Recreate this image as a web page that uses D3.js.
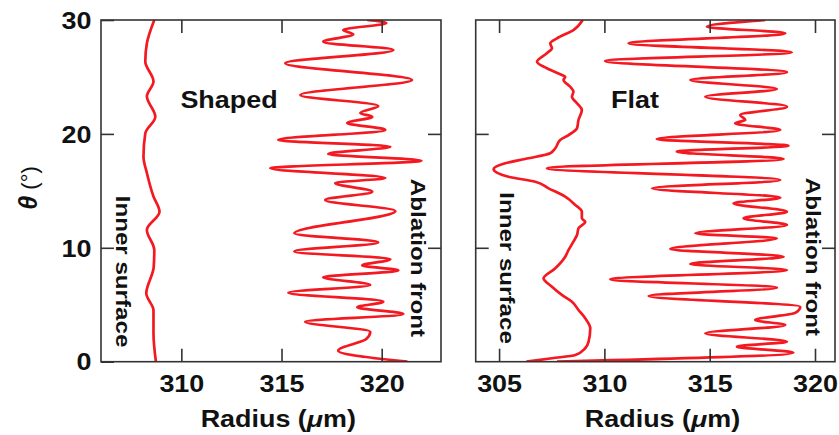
<!DOCTYPE html>
<html>
<head>
<meta charset="utf-8">
<script src="https://cdn.jsdelivr.net/npm/d3@7"></script>
<style>
	body { margin: 0; background: #fff; }
	svg { display: block; font-family: "Liberation Sans", Arial, sans-serif; font-weight: bold; }
</style>
</head>
<body>
<svg id="chart" width="839" height="435"></svg>
<script>
// tick values
var thetaTicks = [0, 10, 20, 30];
var shapedRadiusTicks = [310, 315, 320];
var flatRadiusTicks = [305, 310, 315, 320];

// Shaped panel, inner surface (theta in deg, radius in um)
var shapedInnerTheta = [30, 27.95, 26.35, 24.6, 23.3, 21.5, 20.05, 18.0, 16.57, 14.5, 13.17, 11.57, 9.8, 8.3, 6.0, 4.5, 2.48, 0];
var shapedInnerRadius = [308.65, 308.28, 308.2, 308.61, 308.28, 308.7, 308.2, 308.11, 308.28, 308.61, 308.91, 308.28, 308.65, 308.62, 308.25, 308.61, 308.61, 308.73];

// Shaped panel, ablation front
var shapedFrontTheta = [30.0, 29.74, 29.12, 28.74, 28.09, 27.37, 26.2, 24.73, 23.42, 22.45, 21.84, 21.49, 20.96, 20.35, 19.47, 18.88, 18.24, 17.65, 16.98, 16.13, 15.69, 14.93, 14.2, 13.23, 11.27, 10.47, 9.68, 8.99, 8.45, 8.01, 7.41, 6.73, 6.06, 5.27, 4.78, 4.19, 3.51, 2.63, 1.99, 0.97, 0];
var shapedFrontRadius = [319.28, 320.23, 318.08, 318.58, 317.08, 320.58, 315.19, 321.51, 315.94, 319.83, 318.93, 319.53, 318.28, 320.18, 314.84, 320.43, 317.33, 321.98, 314.44, 320.18, 317.68, 319.53, 317.18, 320.68, 315.64, 319.83, 315.64, 320.43, 319.03, 320.83, 317.08, 319.43, 315.34, 320.08, 318.78, 321.08, 316.18, 319.43, 319.23, 317.83, 321.28];

// Flat panel, inner surface
var flatInnerTheta = [30, 29.12, 28.39, 27.95, 27.52, 27.08, 26.34, 25.76, 25.17, 25.02, 24.73, 24.14, 23.70, 23.27, 22.69, 22.10, 21.22, 20.49, 19.90, 19.47, 18.74, 18.30, 17.86, 17.42, 16.92, 16.24, 15.80, 15.22, 14.49, 13.76, 13.17, 12.59, 12.29, 11.71, 11.12, 10.54, 9.81, 9.22, 8.20, 7.32, 6.58, 5.86, 5.27, 4.54, 3.81, 2.93, 1.76, 1.18, 0.59, 0.30, 0];
var flatInnerRadius = [308.97, 308.53, 307.75, 307.43, 307.51, 307.27, 306.80, 307.27, 307.98, 308.14, 308.06, 308.38, 308.53, 308.46, 308.70, 308.93, 308.77, 308.70, 308.30, 307.90, 307.67, 307.43, 306.40, 305.29, 304.74, 305.45, 306.72, 307.35, 308.14, 308.62, 308.93, 308.93, 309.09, 308.77, 308.70, 308.53, 308.30, 308.14, 307.67, 307.11, 307.51, 307.98, 308.46, 308.77, 309.09, 309.33, 309.25, 309.09, 308.62, 307.51, 306.3];

// Flat panel, ablation front
var flatFrontTheta = [30.0, 29.41, 28.83, 27.95, 27.16, 26.40, 25.41, 24.73, 23.94, 23.27, 22.39, 21.66, 21.22, 20.93, 20.34, 19.55, 18.96, 18.44, 17.80, 16.98, 15.95, 15.22, 14.40, 13.91, 13.17, 12.59, 12.00, 11.27, 10.83, 9.89, 9.22, 8.58, 8.05, 7.23, 6.50, 5.77, 4.83, 4.28, 3.66, 3.22, 2.49, 1.76, 1.32, 0.79, 0];
var flatFrontRadius = [317.64, 314.87, 318.59, 311.15, 318.90, 310.04, 318.67, 314.08, 318.19, 314.79, 318.67, 316.45, 316.69, 316.21, 318.35, 312.49, 318.74, 313.44, 318.51, 307.27, 318.35, 312.26, 318.35, 316.13, 318.67, 316.61, 318.67, 314.31, 318.19, 313.13, 318.51, 314.08, 318.67, 310.28, 318.19, 312.10, 319.30, 319.06, 317.16, 318.59, 314.79, 318.67, 316.29, 318.97, 307.75];

var svg = d3.select("#chart");
var top_ = 20, bottom = 361.7;
var y = d3.scaleLinear().domain([0, 30]).range([bottom, top_]);

// stretch text a bit, the original font is wider than Arial
function widen(sel, k) {
	sel.each(function () {
		var w = this.getComputedTextLength();
		this.setAttribute("textLength", w * k);
		this.setAttribute("lengthAdjust", "spacingAndGlyphs");
	});
}

function zip(t, r) {
	return t.map(function (d, i) { return [d, r[i]]; });
}

function drawPanel(p) {
	var x = d3.scaleLinear().domain(p.domain).range([p.left, p.right]);
	var g = svg.append("g");

	var clipId = "clip" + Math.round(p.left);
	g.append("clipPath").attr("id", clipId)
		.append("rect")
		.attr("x", p.left).attr("y", top_)
		.attr("width", p.right - p.left).attr("height", bottom - top_);

	var line = d3.line()
		.x(function (d) { return x(d[1]); })
		.y(function (d) { return y(d[0]); })
		.curve(d3.curveMonotoneY);

	[p.inner, p.front].forEach(function (pts) {
		g.append("path")
			.attr("clip-path", "url(#" + clipId + ")")
			.attr("d", line(pts))
			.attr("fill", "none")
			.attr("stroke", "#f41820")
			.attr("stroke-width", 2.7)
			.attr("stroke-linejoin", "round");
	});

	// axes, ticks pointing inward on all sides
	g.append("g")
		.attr("transform", "translate(0," + bottom + ")")
		.call(d3.axisBottom(x).tickValues(p.ticks).tickSize(-13).tickPadding(13.5).tickFormat(d3.format("d")));
	g.append("g")
		.attr("transform", "translate(0," + top_ + ")")
		.call(d3.axisTop(x).tickValues(p.ticks).tickSize(-13).tickFormat(""));
	var yl = g.append("g")
		.attr("transform", "translate(" + p.left + ",0)")
		.call(d3.axisLeft(y).tickValues(p.yLabels ? thetaTicks : [10, 20]).tickSize(-13).tickPadding(9.5)
			.tickFormat(p.yLabels ? d3.format("d") : ""));
	g.append("g")
		.attr("transform", "translate(" + p.right + ",0)")
		.call(d3.axisRight(y).tickValues([10, 20]).tickSize(-13).tickFormat(""));

	g.selectAll(".domain").remove();
	g.selectAll(".tick line").attr("stroke", "#333").attr("stroke-width", 1.6);
	g.selectAll(".tick text")
		.attr("fill", "#111")
		.style("font-family", "'Liberation Sans', Arial, sans-serif")
		.style("font-weight", "bold")
		.style("font-size", "23px");
	yl.selectAll(".tick text").attr("dy", "0.36em");
	widen(g.selectAll(".tick text"), 1.17);

	g.append("rect")
		.attr("x", p.left).attr("y", top_)
		.attr("width", p.right - p.left).attr("height", bottom - top_)
		.attr("fill", "none").attr("stroke", "#333").attr("stroke-width", 1.6);

	// x title
	var xt = g.append("text")
		.attr("x", p.titleX).attr("y", 426.5)
		.attr("text-anchor", "middle")
		.style("font-size", "23px")
		.attr("fill", "#111");
	xt.append("tspan").text("Radius (");
	xt.append("tspan").style("font-style", "italic").text("\u03bc");
	xt.append("tspan").text("m)");
	widen(xt, 1.17);

	var lab = g.append("text")
		.attr("x", p.labelX).attr("y", 108.3)
		.attr("text-anchor", "middle")
		.style("font-size", "23px")
		.attr("fill", "#111")
		.text(p.label);
	widen(lab, 1.17);

	var side = g.selectAll(".side")
		.data([
			{ t: "Inner surface", x: p.innerX, y: p.innerY },
			{ t: "Ablation front", x: p.frontX, y: p.frontY }
		])
		.enter().append("text")
		.attr("transform", function (d) { return "translate(" + d.x + "," + d.y + ") rotate(90)"; })
		.attr("text-anchor", "middle")
		.style("font-size", "21px")
		.attr("fill", "#111")
		.text(function (d) { return d.t; });
	widen(side, 1.15);
}

drawPanel({
	left: 101, right: 441, domain: [305.99, 322.96], ticks: shapedRadiusTicks, yLabels: true,
	inner: zip(shapedInnerTheta, shapedInnerRadius), front: zip(shapedFrontTheta, shapedFrontRadius),
	label: "Shaped", labelX: 229, titleX: 278.3,
	innerX: 116, innerY: 271.5, frontX: 411, frontY: 258
});

drawPanel({
	left: 475.7, right: 835, domain: [303.89, 320.95], ticks: flatRadiusTicks, yLabels: false,
	inner: zip(flatInnerTheta, flatInnerRadius), front: zip(flatFrontTheta, flatFrontRadius),
	label: "Flat", labelX: 635, titleX: 662.5,
	innerX: 500, innerY: 268, frontX: 806, frontY: 257
});

// y title
var yt = svg.append("text")
	.attr("transform", "translate(37,188) rotate(-90)")
	.attr("text-anchor", "middle")
	.attr("fill", "#111");
yt.append("tspan").style("font-style", "italic").style("font-size", "25px").text("\u03b8");
yt.append("tspan").style("font-weight", "normal").style("font-size", "22px").text(" (\u00b0)");
</script>
</body>
</html>
